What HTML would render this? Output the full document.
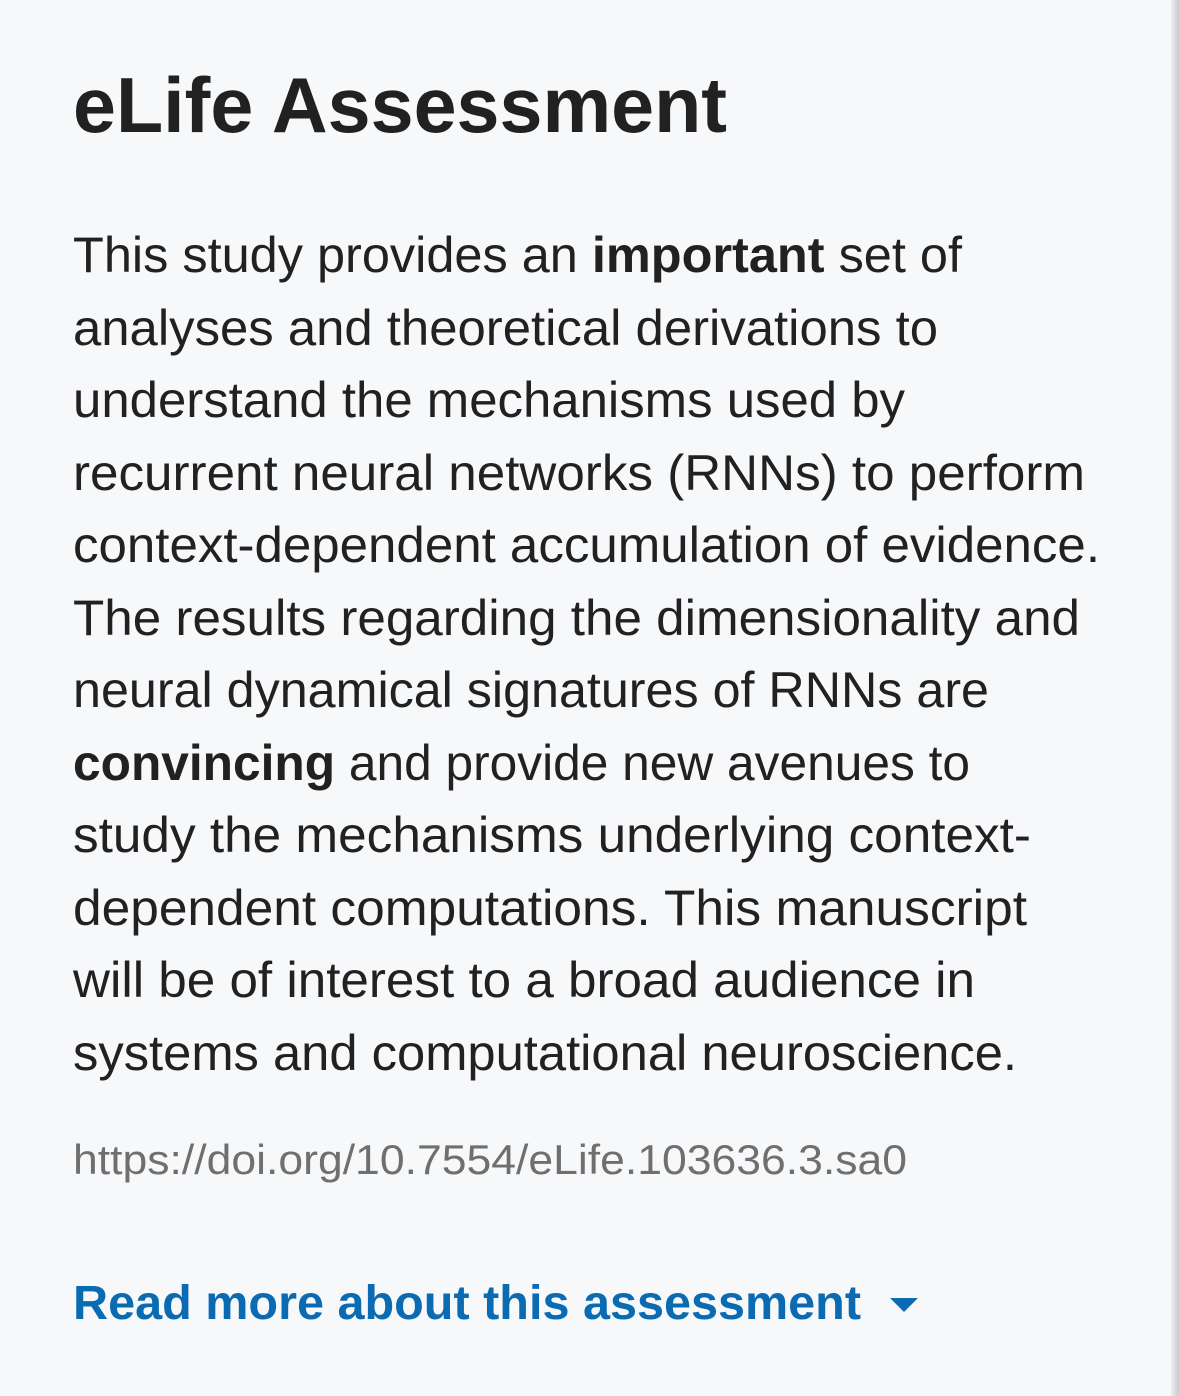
<!DOCTYPE html>
<html><head><meta charset="utf-8"><style>
html,body{margin:0;padding:0;background:#f7f8fa;}
body{width:1179px;height:1396px;overflow:hidden;position:relative;}
.edge{position:absolute;right:0;top:0;width:8px;height:1396px;background:linear-gradient(to right,#eceef0,#c9cbcd);}
svg{position:absolute;left:0;top:0;}
text{font-family:"Liberation Sans","DejaVu Sans",sans-serif;}
</style></head><body>
<div class="edge"></div>
<svg width="1179" height="1396" xmlns="http://www.w3.org/2000/svg">
<text x="73" y="132" font-size="78" font-weight="bold" fill="#212121" textLength="654" lengthAdjust="spacingAndGlyphs">eLife Assessment</text>
<g font-size="50" fill="#212121" transform="translate(0,-2)">
<text x="73" y="274" textLength="889" lengthAdjust="spacingAndGlyphs">This study provides an <tspan font-weight="bold">important</tspan> set of</text>
<text x="73" y="347" textLength="865" lengthAdjust="spacingAndGlyphs">analyses and theoretical derivations to</text>
<text x="73" y="419" textLength="832" lengthAdjust="spacingAndGlyphs">understand the mechanisms used by</text>
<text x="73" y="492" textLength="1012" lengthAdjust="spacingAndGlyphs">recurrent neural networks (RNNs) to perform</text>
<text x="73" y="564" textLength="1027" lengthAdjust="spacingAndGlyphs">context-dependent accumulation of evidence.</text>
<text x="73" y="637" textLength="1007" lengthAdjust="spacingAndGlyphs">The results regarding the dimensionality and</text>
<text x="73" y="709" textLength="916" lengthAdjust="spacingAndGlyphs">neural dynamical signatures of RNNs are</text>
<text x="73" y="782" textLength="897" lengthAdjust="spacingAndGlyphs"><tspan font-weight="bold">convincing</tspan> and provide new avenues to</text>
<text x="73" y="854" textLength="958" lengthAdjust="spacingAndGlyphs">study the mechanisms underlying context-</text>
<text x="73" y="927" textLength="954" lengthAdjust="spacingAndGlyphs">dependent computations. This manuscript</text>
<text x="73" y="999" textLength="902" lengthAdjust="spacingAndGlyphs">will be of interest to a broad audience in</text>
<text x="73" y="1072" textLength="944" lengthAdjust="spacingAndGlyphs">systems and computational neuroscience.</text>
</g>
<text x="73" y="1174" font-size="42" fill="#6f6f6f" textLength="834" lengthAdjust="spacingAndGlyphs">https://doi.org/10.7554/eLife.103636.3.sa0</text>
<text x="73" y="1319" font-size="48" font-weight="bold" fill="#0a6bb3" textLength="788" lengthAdjust="spacingAndGlyphs">Read more about this assessment</text>
<polygon points="890,1298 918,1298 904,1312" fill="#0a6bb3"/>
</svg>
</body></html>
